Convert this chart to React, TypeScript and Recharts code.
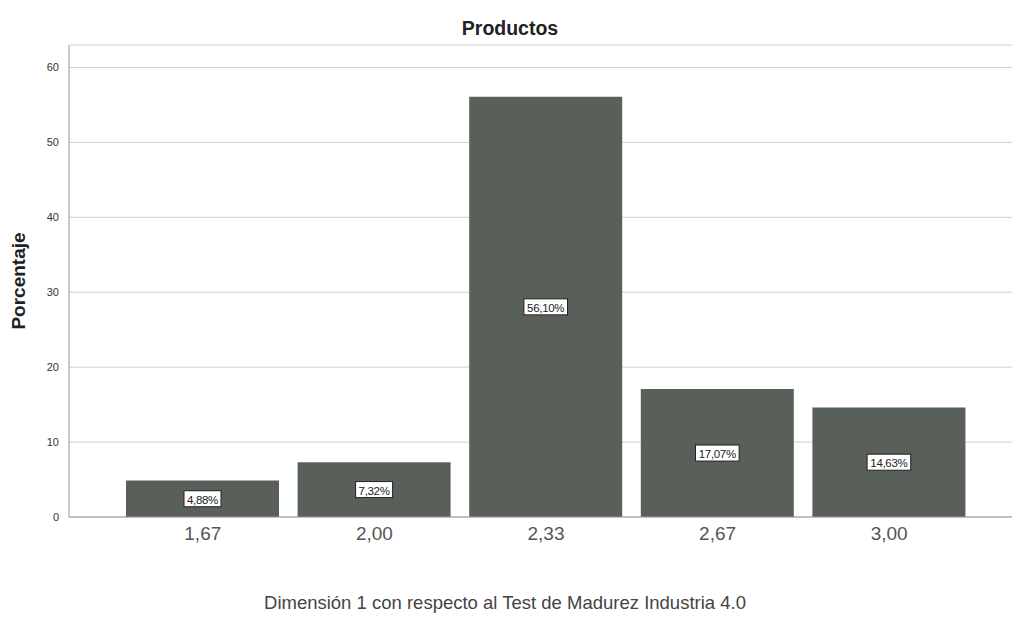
import React from "react";
import { BarChart, Bar, XAxis, YAxis, CartesianGrid, LabelList } from "recharts";

const categories = ["1,67", "2,00", "2,33", "2,67", "3,00"];
const percentages = [4.88, 7.32, 56.1, 17.07, 14.63];
const yTicks = [0, 10, 20, 30, 40, 50, 60];

const data = categories.map((name, i) => ({ name, value: percentages[i] }));

const formatPct = (v: number) => `${v.toFixed(2).replace(".", ",")}%`;

// white boxed label in the middle of each bar
const BoxLabel = (props: any) => {
  const { x, y, width, height, value } = props;
  const text = formatPct(Number(value));
  const cx = x + width / 2;
  const cy = y + height / 2;
  const w = text.length * 6.6 + 4;
  return (
    <g>
      <rect x={cx - w / 2} y={cy - 8} width={w} height={16} fill="#fff" stroke="#222" strokeWidth={1} />
      <text x={cx} y={cy + 1} textAnchor="middle" dominantBaseline="central" fontSize={11.5} fill="#222" letterSpacing={-0.3}>
        {text}
      </text>
    </g>
  );
};

export default function App() {
  const font = "'Liberation Sans', Arial, sans-serif";
  return (
    <div style={{ position: "absolute", left: 0, top: 0, width: 1014, height: 623, background: "#fff", fontFamily: font }}>
      <div style={{ position: "absolute", top: 17, left: 0, width: 1020, textAlign: "center", fontSize: 19.5, fontWeight: "bold", color: "#222" }}>
        Productos
      </div>
      <div
        style={{
          position: "absolute",
          left: 19,
          top: 281,
          transform: "translate(-50%, -50%) rotate(-90deg)",
          fontSize: 19,
          fontWeight: "bold",
          color: "#222",
          whiteSpace: "nowrap",
        }}
      >
        Porcentaje
      </div>
      <div style={{ position: "absolute", top: 592, left: 0, width: 1010, textAlign: "center", fontSize: 18.5, color: "#444" }}>
        Dimensión 1 con respecto al Test de Madurez Industria 4.0
      </div>
      <BarChart
        width={1014}
        height={623}
        data={data}
        margin={{ top: 45, right: 2, bottom: 66, left: 0 }}
        style={{ position: "absolute", left: 0, top: 0 }}
      >
        <CartesianGrid vertical={false} stroke="#d0d0d0" />
        <XAxis
          dataKey="name"
          height={40}
          tickLine={false}
          axisLine={{ stroke: "#999" }}
          tick={{ fontSize: 19, fill: "#555", fontFamily: font }}
          tickMargin={4}
          padding={{ left: 48, right: 37 }}
        />
        <YAxis
          width={69}
          domain={[0, 63]}
          ticks={yTicks}
          tickLine={false}
          axisLine={{ stroke: "#999" }}
          tick={{ fontSize: 11, fill: "#333", fontFamily: font }}
          tickMargin={4}
        />
        <Bar dataKey="value" fill="#596059" barSize={153} isAnimationActive={false}>
          <LabelList dataKey="value" content={BoxLabel} />
        </Bar>
      </BarChart>
    </div>
  );
}
